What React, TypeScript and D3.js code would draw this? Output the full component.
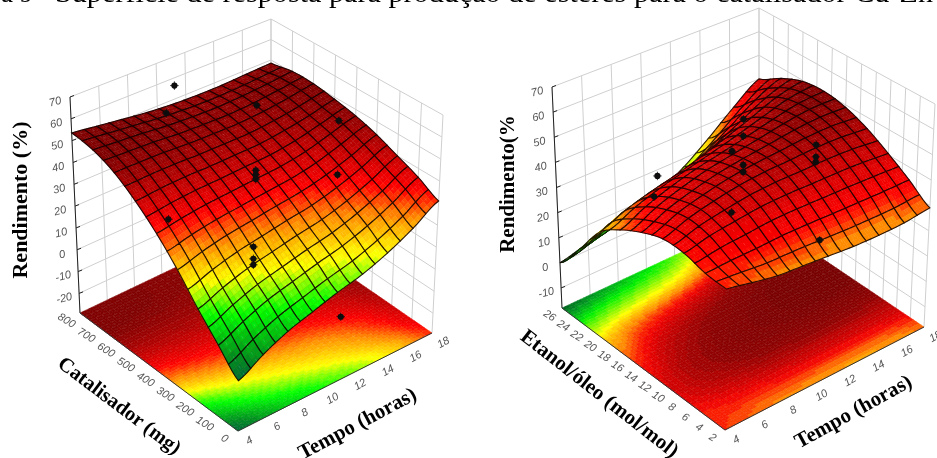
import React from 'react';
import * as d3 from 'd3';

// Axis ticks
const tempoTicks = [4, 6, 8, 10, 12, 14, 16, 18];
const catalisadorTicks = [0, 100, 200, 300, 400, 500, 600, 700, 800];
const etanolTicks = [2, 4, 6, 8, 10, 12, 14, 16, 18, 20, 22, 24, 26];
const yieldTicksLeft = [70, 60, 50, 40, 30, 20, 10, 0, -10, -20];
const yieldTicksRight = [70, 60, 50, 40, 30, 20, 10, 0, -10];

// Surface heights, rows = catalyst/ethanol (low to high), cols = tempo 4..18
const yieldLeft = [
  [-8, -2, 3, 6.5, 10, 13, 17.5, 23.5, 31],
  [1, 6.2, 10.6, 13.7, 16.8, 19.6, 23.7, 29.2, 36],
  [10.5, 14.8, 18.4, 20.9, 23.4, 25.6, 29.2, 34.1, 40],
  [21.5, 24.7, 27.2, 28.9, 30.7, 32.4, 35.2, 39.2, 44],
  [31.5, 33.5, 35, 36, 37, 38, 40, 43.5, 47],
  [40, 41, 41.6, 41.7, 42.1, 42.5, 44, 46.2, 49],
  [47, 47, 46.9, 46.3, 46.2, 46.2, 47, 48.6, 50.5],
  [51.5, 50.7, 49.9, 48.8, 48.2, 47.9, 48.4, 49.3, 50.5],
  [53.5, 52, 50.5, 49, 48, 47.5, 47.5, 48, 48.5],
];
const yieldRight = [
  [31.6, 30, 28.5, 28, 27.5, 27, 27, 27.5, 29],
  [32.5, 33.2, 33.6, 34.3, 34.5, 34.5, 34.6, 34.7, 35],
  [35, 37.4, 38.9, 40.3, 40.9, 41, 41.2, 41.1, 40.5],
  [35.5, 39.1, 41.6, 43.6, 44.8, 45.4, 46.1, 46.2, 45.5],
  [33, 37.5, 40.7, 43.3, 45.1, 46.6, 48.2, 49.2, 49],
  [29, 33.7, 37.3, 40.2, 42.4, 44.8, 47.4, 49.7, 50.5],
  [23, 27, 30, 32.5, 35.5, 39, 43, 47.2, 49.5],
  [11, 14, 16.5, 19, 22, 27.5, 34, 40.7, 45.5],
  [0, 2.5, 5, 7.5, 11, 16.5, 24, 32.5, 40],
];

// Experimental points: tempo, catalyst/ethanol, yield
const pointsLeftTempo = [8.2, 7.6, 7.6, 14.2, 13.9, 13.9, 14.4, 11, 11, 11, 7.8, 7.8, 7.8];
const pointsLeftCat = [592, 592, 592, 612, 208, 208, 208, 400, 400, 400, 192, 192, 192];
const pointsLeftYield = [76, 65, 16.7, 50, 66.6, 42.2, -23.5, 41, 39, 37, 27.5, 22.3, 19.7];
const pointsRightTempo = [7.95, 7.7, 11, 11, 11, 11, 13.6, 13.6, 13.6, 14, 7.6, 7.6];
const pointsRightEt = [19.8, 19.8, 14, 14, 14, 14, 9.2, 9.2, 9.2, 9.2, 8.7, 8.7];
const pointsRightYield = [35.8, 28.3, 60.5, 53.9, 42.6, 39.9, 52.3, 47.6, 45.6, 14.1, 63.7, 40.9];

type Pt = [number, number];
type Box = { f: Pt; l: Pt; r: Pt; b: Pt; tf: Pt; tl: Pt; tr: Pt; tb: Pt };

const boxLeft: Box = {
  f: [238, 431], l: [80, 313], r: [432, 333], b: [271, 222],
  tf: [240, 194], tl: [70, 97], tr: [443, 115], tb: [271, 19],
};
const boxRight: Box = {
  f: [725, 430], l: [562, 308], r: [924, 327], b: [759, 216],
  tf: [728, 180], tl: [552, 87], tr: [935, 104], tb: [759, 8],
};

const colorLeft = d3.scaleLinear<string>()
  .domain([-8, -3, 3, 8, 17, 26, 33, 44, 50])
  .range(['#006a38', '#008c20', '#00c810', '#00ff00', '#ffff00', '#ff8c00', '#ff0000', '#a80000', '#800000'])
  .clamp(true);
const colorRight = d3.scaleLinear<string>()
  .domain([0, 4, 10, 21, 28, 33, 37, 44, 51])
  .range(['#006a20', '#00a020', '#00f000', '#ffff00', '#ff8c00', '#ff0800', '#f00000', '#c00000', '#800000'])
  .clamp(true);
// the projected map on the floor of the right plot goes dark sooner than the sheet
const floorRight = d3.scaleLinear<string>()
  .domain([0, 4, 10, 21, 28, 33, 37, 42, 48])
  .range(['#006a20', '#00a020', '#00f000', '#ffff00', '#ff8c00', '#f80800', '#c80000', '#900000', '#780000'])
  .clamp(true);

// Catmull-Rom through the read values, only to smooth the drawn sheet between them
function cr(p0: number, p1: number, p2: number, p3: number, t: number) {
  return 0.5 * (2 * p1 + (p2 - p0) * t + (2 * p0 - 5 * p1 + 4 * p2 - p3) * t * t + (3 * p1 - p0 - 3 * p2 + p3) * t * t * t);
}
function heightAt(grid: number[][], u: number, v: number) {
  const n = grid.length - 1;
  const cu = Math.min(n - 1, Math.floor(u * n));
  const cv = Math.min(n - 1, Math.floor(v * n));
  const tu = u * n - cu;
  const tv = v * n - cv;
  const row = (j: number) => {
    const r = grid[Math.max(0, Math.min(n, j))];
    const at = (i: number) => r[Math.max(0, Math.min(n, i))];
    return cr(at(cu - 1), at(cu), at(cu + 1), at(cu + 2), tu);
  };
  return cr(row(cv - 1), row(cv), row(cv + 1), row(cv + 2), tv);
}

function Panel({ box, grid, color, floorColor, zDomain, zTicks, yTicks, yDomain, yOffset, z0Offset, tOffset, ptsT, ptsY, ptsZ, yTop, faint }: any) {
  const uScale = d3.scaleLinear().domain([4, 18]).range([0, 1]);
  const vScale = d3.scaleLinear().domain(yDomain).range([0, 1]);
  const wScale = d3.scaleLinear().domain(zDomain).range([0, 1]);

  const project = (u: number, v: number, w: number): Pt => {
    const mix = (a: Pt, b: Pt, c: Pt, d: Pt, i: 0 | 1) =>
      (1 - u) * (1 - v) * a[i] + u * (1 - v) * b[i] + (1 - u) * v * c[i] + u * v * d[i];
    const fx = mix(box.f, box.r, box.l, box.b, 0);
    const fy = mix(box.f, box.r, box.l, box.b, 1);
    const tx = mix(box.tf, box.tr, box.tl, box.tb, 0);
    const ty = mix(box.tf, box.tr, box.tl, box.tb, 1);
    return [fx + (tx - fx) * w, fy + (ty - fy) * w];
  };
  const line = d3.line<Pt>();
  const seg = (a: Pt, b: Pt) => line([a, b]) as string;

  const zh = (u: number, v: number) => heightAt(grid, u, v);
  const band = (z: number) => color(Math.round(z / 1.4) * 1.4);
  const floorBand = (z: number) => floorColor(Math.round(z / 1.4) * 1.4);

  // floor
  const floorCells: any[] = [];
  const floorN = 64;
  for (let j = floorN - 1; j >= 0; j--) {
    for (let i = floorN - 1; i >= 0; i--) {
      const u0 = i / floorN, u1 = (i + 1) / floorN, v0 = j / floorN, v1 = (j + 1) / floorN;
      const d = line([project(u0, v0, 0), project(u1, v0, 0), project(u1, v1, 0), project(u0, v1, 0)]) + 'Z';
      const fill = floorBand(zh((u0 + u1) / 2, (v0 + v1) / 2));
      floorCells.push(<path key={`f${i}-${j}`} d={d} fill={fill} stroke={fill} strokeWidth={0.6} />);
    }
  }

  // surface: coarse cells back to front so the near part hides the far part
  const meshN = 16;
  const sub = 3;
  const sheet: any[] = [];
  const pt = (u: number, v: number) => project(u, v, wScale(zh(u, v)));
  for (let j = meshN - 1; j >= 0; j--) {
    for (let i = meshN - 1; i >= 0; i--) {
      for (let sj = sub - 1; sj >= 0; sj--) {
        for (let si = sub - 1; si >= 0; si--) {
          const u0 = (i + si / sub) / meshN, u1 = (i + (si + 1) / sub) / meshN;
          const v0 = (j + sj / sub) / meshN, v1 = (j + (sj + 1) / sub) / meshN;
          const d = line([pt(u0, v0), pt(u1, v0), pt(u1, v1), pt(u0, v1)]) + 'Z';
          const fill = band(zh((u0 + u1) / 2, (v0 + v1) / 2));
          sheet.push(<path key={`s${i}-${j}-${si}-${sj}`} d={d} fill={fill} stroke={fill} strokeWidth={0.5} />);
        }
      }
      const u0 = i / meshN, u1 = (i + 1) / meshN, v0 = j / meshN, v1 = (j + 1) / meshN;
      const border: Pt[] = [];
      const steps = d3.range(0, sub + 1).map(k => k / sub);
      steps.forEach(k => border.push(pt(u0 + (u1 - u0) * k, v0)));
      steps.forEach(k => border.push(pt(u1, v0 + (v1 - v0) * k)));
      steps.forEach(k => border.push(pt(u1 - (u1 - u0) * k, v1)));
      steps.forEach(k => border.push(pt(u0, v1 - (v1 - v0) * k)));
      sheet.push(<path key={`m${i}-${j}`} d={(line(border) as string) + 'Z'} fill="none" stroke="#140500" strokeOpacity={0.9} strokeWidth={1.1} />);
      // pale dashes inside the cell, as in the scan
      const a = pt((u0 + u1) / 2, v0), b = pt((u0 + u1) / 2, v1);
      sheet.push(<path key={`w${i}-${j}`} d={seg(a, b)} stroke="#fff" strokeOpacity={faint} strokeWidth={0.7} strokeDasharray="3 5" />);
    }
  }

  const floorFaint: any[] = [];
  d3.range(0, 33).forEach(k => {
    floorFaint.push(<path key={`a${k}`} d={seg(project(k / 32, 0, 0), project(k / 32, 1, 0))} stroke="#fff" strokeOpacity={0.13} strokeWidth={0.6} strokeDasharray="3 4" />);
    floorFaint.push(<path key={`b${k}`} d={seg(project(0, k / 32, 0), project(1, k / 32, 0))} stroke="#fff" strokeOpacity={0.13} strokeWidth={0.6} strokeDasharray="3 4" />);
  });

  const wallStroke = '#cfcfcf';
  const tickFont = { fontFamily: 'Liberation Sans, Arial, sans-serif', fontSize: 11, fill: '#555', fontStyle: 'italic' as const };

  return (
    <g>
      {/* walls */}
      {tempoTicks.map(t => (
        <path key={`wt${t}`} d={seg(project(uScale(t), 1, 0), project(uScale(t), 1, 1))} stroke={wallStroke} fill="none" />
      ))}
      {yTicks.map((y: number) => (
        <path key={`wy${y}`} d={seg(project(1, vScale(y), 0), project(1, vScale(y), 1))} stroke={wallStroke} fill="none" />
      ))}
      {zTicks.map((z: number) => (
        <path key={`wz${z}`} d={(line([project(0, 1, wScale(z)), project(1, 1, wScale(z)), project(1, 0, wScale(z))]) as string)} stroke={wallStroke} fill="none" />
      ))}
      {floorCells}
      {floorFaint}
      {/* axes */}
      <path d={seg(project(0, 1, 0), project(0, 1, wScale(yTop)))} stroke="#222" fill="none" />
      <path d={seg(project(0, 0, 0), project(1, 0, 0))} stroke="#333" fill="none" />
      <path d={seg(project(0, 0, 0), project(0, 1, 0))} stroke="#333" fill="none" />
      {zTicks.map((z: number) => {
        const [x, y] = project(0, 1, wScale(z));
        return (
          <g key={`zt${z}`}>
            <path d={seg([x, y], [x + 4, y - 1.5])} stroke="#222" />
            <text x={x + z0Offset[0]} y={y + z0Offset[1]} textAnchor="middle" transform={`rotate(-14 ${x + z0Offset[0]} ${y + z0Offset[1]})`} {...tickFont}>{z}</text>
          </g>
        );
      })}
      {yTicks.map((c: number) => {
        const [x, y] = project(0, vScale(c), 0);
        const lx = x + yOffset[0], ly = y + yOffset[1];
        return <text key={`yt${c}`} x={lx} y={ly} textAnchor="middle" dominantBaseline="central" transform={`rotate(32 ${lx} ${ly})`} {...tickFont}>{c}</text>;
      })}
      {tempoTicks.map(t => {
        const [x, y] = project(uScale(t), 0, 0);
        const lx = x + tOffset[0], ly = y + tOffset[1];
        return <text key={`tt${t}`} x={lx} y={ly} textAnchor="middle" dominantBaseline="central" transform={`rotate(-30 ${lx} ${ly})`} {...tickFont}>{t}</text>;
      })}
      {sheet}
      {ptsT.map((t: number, k: number) => {
        const [x, y] = project(uScale(t), vScale(ptsY[k]), wScale(ptsZ[k]));
        return (
          <g key={`p${k}`}>
            <circle cx={x} cy={y} r={3.1} fill="#0a0a0a" />
            <path d={`M${x - 4.2},${y}H${x + 4.2}M${x},${y - 4.2}V${y + 4.2}`} stroke="#0a0a0a" strokeWidth={0.8} />
          </g>
        );
      })}
    </g>
  );
}

function AxisTitle({ x, y, angle, size = 21, children }: any) {
  return (
    <text x={x} y={y} textAnchor="middle" dominantBaseline="central" transform={`rotate(${angle} ${x} ${y})`}
      fontFamily="Liberation Serif, Times New Roman, serif" fontWeight="bold" fontSize={size} fill="#000">
      {children}
    </text>
  );
}

export default function App() {
  const titleFont = { fontFamily: 'Liberation Serif, Times New Roman, serif', fontSize: 27, fill: '#000' };
  return (
    <svg width={937} height={458} viewBox="0 0 937 458" style={{ position: 'absolute', left: 0, top: 0, display: 'block', background: '#fff' }}>
      <defs>
        <filter id="scan" x="0" y="0" width="1" height="1">
          <feGaussianBlur stdDeviation="0.5" />
        </filter>
      </defs>
      <g filter="url(#scan)">
        <text x={1} y={2} {...titleFont}>a 9</text>
        <text x={55} y={2} textLength={878} lengthAdjust="spacingAndGlyphs" {...titleFont}>
          Superfície de resposta para produção de ésteres para o catalisador Cu-Zn
        </text>
        <Panel box={boxLeft} grid={yieldLeft} color={colorLeft} floorColor={colorLeft} zDomain={[-29, 70]} zTicks={yieldTicksLeft}
          yTicks={catalisadorTicks} yDomain={[0, 800]} yOffset={[-13, 7]} z0Offset={[-14, 8]} tOffset={[11, 9]}
          ptsT={pointsLeftTempo} ptsY={pointsLeftCat} ptsZ={pointsLeftYield} yTop={70} faint={0.22} />
        <Panel box={boxRight} grid={yieldRight} color={colorRight} floorColor={floorRight} zDomain={[-18, 70]} zTicks={yieldTicksRight}
          yTicks={etanolTicks} yDomain={[2, 26]} yOffset={[-12, 7]} z0Offset={[-14, 8]} tOffset={[11, 9]}
          ptsT={pointsRightTempo} ptsY={pointsRightEt} ptsZ={pointsRightYield} yTop={70} faint={0.22} />
        <AxisTitle x={19} y={200} angle={-90} size={22}>Rendimento (%)</AxisTitle>
        <AxisTitle x={120} y={405} angle={37} size={20.5}>Catalisador (mg)</AxisTitle>
        <AxisTitle x={357} y={423} angle={-28}>Tempo (horas)</AxisTitle>
        <AxisTitle x={507} y={184} angle={-90}>Rendimento(%</AxisTitle>
        <AxisTitle x={600} y={393} angle={38}>Etanol/óleo (mol/mol)</AxisTitle>
        <AxisTitle x={853} y={411} angle={-29}>Tempo (horas)</AxisTitle>
      </g>
    </svg>
  );
}
